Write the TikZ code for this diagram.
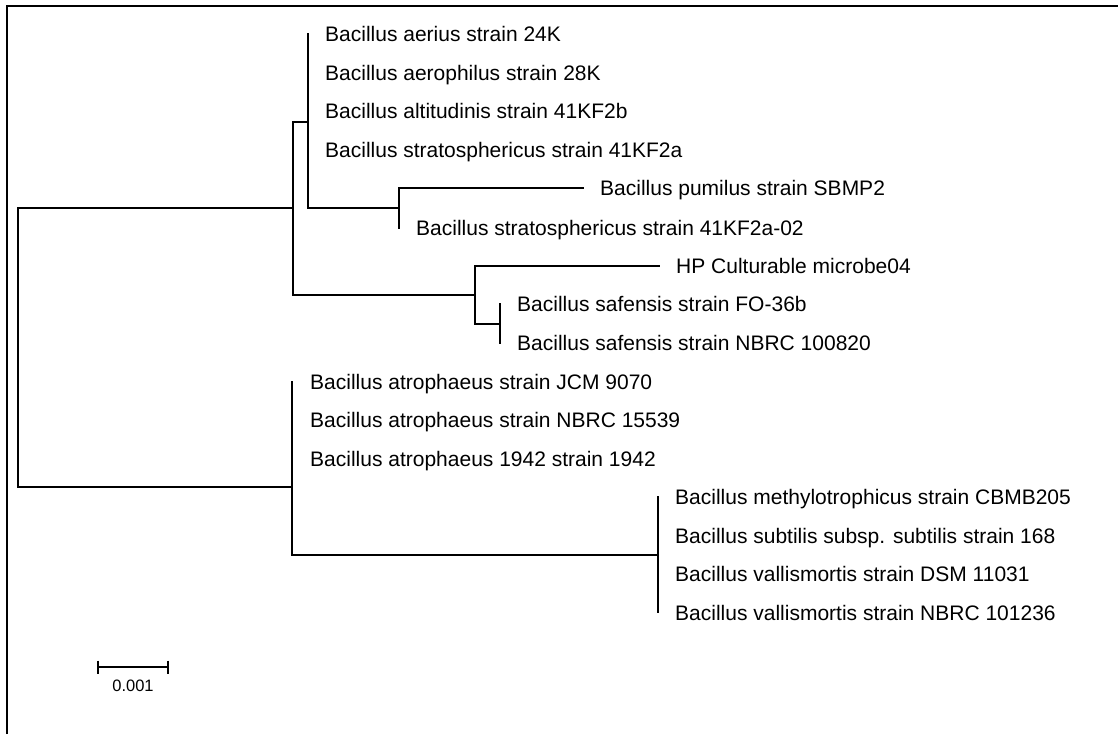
\documentclass[tikz,border=0pt]{standalone}
\usepackage{fontspec}
\setmainfont{Liberation Sans}
\begin{document}
\begin{tikzpicture}[x=1pt,y=-1pt,
  branch/.style={line width=1.4pt,line cap=rect},
  frame/.style={line width=2.2pt},
  leaf/.style={anchor=base west,inner sep=0pt,font=\fontsize{21}{25}\selectfont},
  scalelbl/.style={anchor=base,inner sep=0pt,font=\fontsize{16.5}{20}\selectfont}]
\useasboundingbox (0,0) rectangle (1118,734);
% frame
\coordinate (f1) at (7,734);
\coordinate (f2) at (7,6);
\coordinate (f3) at (1118,6);
\draw[frame] (f1) -- (f2) -- (f3);
% internal nodes
\coordinate (r) at (18,347.5);
\coordinate (u) at (293,208);
\coordinate (a) at (308,122);
\coordinate (c) at (399,208);
\coordinate (b) at (475,295);
\coordinate (d) at (500,324);
\coordinate (l) at (292,487);
\coordinate (e) at (292,420);
\coordinate (m) at (658,555);
% leaf tips
\coordinate (t1) at (308,34);
\coordinate (t2) at (308,72.5);
\coordinate (t3) at (308,111);
\coordinate (t4) at (308,149.5);
\coordinate (t5) at (583,188);
\coordinate (t6) at (399,228);
\coordinate (t7) at (659,266);
\coordinate (t8) at (500,304);
\coordinate (t9) at (500,343);
\coordinate (t10) at (292,382);
\coordinate (t11) at (292,420);
\coordinate (t12) at (292,459);
\coordinate (t13) at (658,497);
\coordinate (t14) at (658,535.5);
\coordinate (t15) at (658,574);
\coordinate (t16) at (658,612.5);
% branches
\draw[branch] (r) |- (u);
\draw[branch] (r) |- (l);
\draw[branch] (u) |- (a);
\draw[branch] (u) |- (b);
\draw[branch] (a) |- (t1);
\draw[branch] (a) |- (c);
\draw[branch] (c) |- (t5);
\draw[branch] (c) |- (t6);
\draw[branch] (b) |- (t7);
\draw[branch] (b) |- (d);
\draw[branch] (d) |- (t8);
\draw[branch] (d) |- (t9);
\draw[branch] (l) |- (e);
\draw[branch] (l) |- (m);
\draw[branch] (e) |- (t10);
\draw[branch] (e) |- (t12);
\draw[branch] (m) |- (t13);
\draw[branch] (m) |- (t16);
% labels
\node[leaf] (n1) at ([xshift=17pt,yshift=-7.5pt]t1) {Bacillus aerius strain 24K};
\node[leaf] (n2) at ([xshift=17pt,yshift=-7.5pt]t2) {Bacillus aerophilus strain 28K};
\node[leaf] (n3) at ([xshift=17pt,yshift=-7.5pt]t3) {Bacillus altitudinis strain 41KF2b};
\node[leaf] (n4) at ([xshift=17pt,yshift=-7.5pt]t4) {Bacillus stratosphericus strain 41KF2a};
\node[leaf] (n5) at ([xshift=17pt,yshift=-7.5pt]t5) {Bacillus pumilus strain SBMP2};
\node[leaf] (n6) at ([xshift=17pt,yshift=-7.5pt]t6) {Bacillus stratosphericus strain 41KF2a-02};
\node[leaf] (n7) at ([xshift=17pt,yshift=-7.5pt]t7) {HP Culturable microbe04};
\node[leaf] (n8) at ([xshift=17pt,yshift=-7.5pt]t8) {Bacillus safensis strain FO-36b};
\node[leaf] (n9) at ([xshift=17pt,yshift=-7.5pt]t9) {Bacillus safensis strain NBRC 100820};
\node[leaf] (n10) at ([xshift=18pt,yshift=-7.5pt]t10) {Bacillus atrophaeus strain JCM 9070};
\node[leaf] (n11) at ([xshift=18pt,yshift=-7.5pt]t11) {Bacillus atrophaeus strain NBRC 15539};
\node[leaf] (n12) at ([xshift=18pt,yshift=-7.5pt]t12) {Bacillus atrophaeus 1942 strain 1942};
\node[leaf] (n13) at ([xshift=17pt,yshift=-7.5pt]t13) {Bacillus methylotrophicus strain CBMB205};
\node[leaf] (n14) at ([xshift=17pt,yshift=-7.5pt]t14) {Bacillus subtilis subsp. subtilis strain 168};
\node[leaf] (n15) at ([xshift=17pt,yshift=-7.5pt]t15) {Bacillus vallismortis strain DSM 11031};
\node[leaf] (n16) at ([xshift=17pt,yshift=-7.5pt]t16) {Bacillus vallismortis strain NBRC 101236};
% scale bar
\coordinate (s1) at (98,667);
\coordinate (s2) at (168,667);
\draw[branch,line cap=butt] (s1) -- (s2);
\draw[branch,line cap=butt] ([yshift=6.5pt]s1) -- ([yshift=-6.5pt]s1);
\draw[branch,line cap=butt] ([yshift=6.5pt]s2) -- ([yshift=-6.5pt]s2);
\node[scalelbl] (sl) at (133,691) {0.001};
\end{tikzpicture}
\end{document}
